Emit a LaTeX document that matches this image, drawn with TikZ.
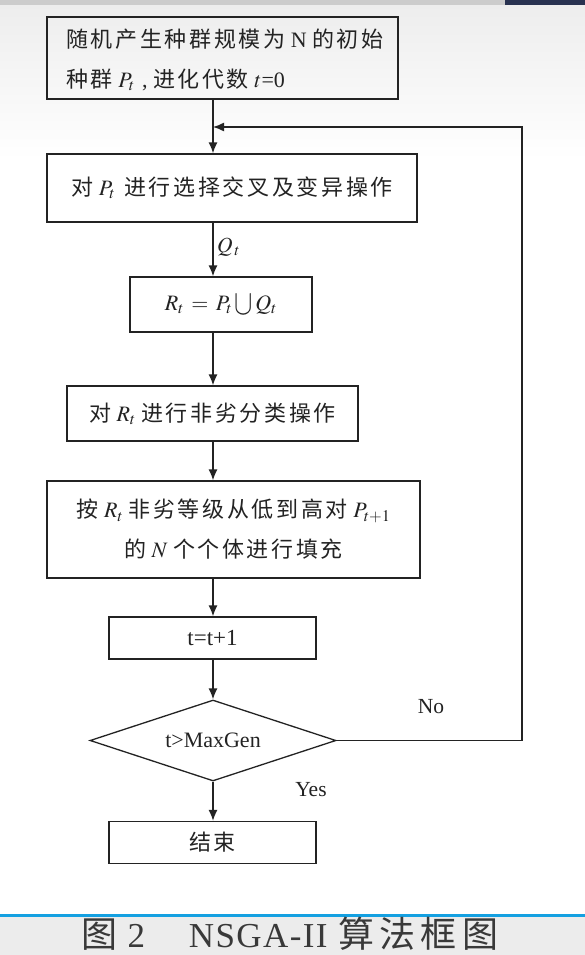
\documentclass[tikz,border=0pt]{standalone}
\usepackage{mathptmx}
\usepackage{graphicx}
\usepackage[no-math]{fontspec}
\setmainfont{Liberation Serif}
\newfontfamily\cjk[LetterSpace=12]{Noto Sans CJK SC}
\newfontfamily\cjkcap[LetterSpace=15]{Noto Sans CJK SC}
\newfontfamily\capserif[LetterSpace=4]{Liberation Serif}
\usetikzlibrary{shapes.geometric,arrows.meta}
\newcommand\zh[1]{{\cjk #1}}
\newcommand\bigunion{\raisebox{-4pt}{\scalebox{1.25}[1.6]{$\cup$}}}
\definecolor{ink}{RGB}{35,35,35}
\definecolor{capblue}{RGB}{20,160,225}
\definecolor{topnavy}{RGB}{40,50,80}
\begin{document}
\begin{tikzpicture}[x=1pt,y=-1pt,
  stepbox/.style={draw=ink, line width=1.3pt, inner sep=0pt, text=ink,
    font=\fontsize{22}{40}\selectfont, align=center},
  steptext/.style={inner sep=0pt, text=ink, font=\fontsize{22}{40}\selectfont, align=left},
  decbox/.style={diamond, draw=ink, line width=1.3pt, inner sep=0pt, text=ink,
    font=\fontsize{22}{26}\selectfont, aspect=3},
  arr/.style={draw=ink, line width=1.4pt, -{Latex[length=11pt,width=9pt]}},
  lbl/.style={text=ink, font=\fontsize{21.5}{26}\selectfont, inner sep=0pt}]
\useasboundingbox (0,0) rectangle (585,955);
\fill[white] (0,0) rectangle (585,955);
\shade[top color=gray!14, bottom color=white] (0,5) rectangle (585,160);
\fill[gray!40] (0,0) rectangle (585,5);
\fill[topnavy] (505,0) rectangle (585,5);

\coordinate (axis) at (213,0);

\node[stepbox, minimum width=351pt, minimum height=82pt] (b1) at (222.5,58) {};
\node[steptext, anchor=west] (b1t) at (66,60) {\zh{随机产生种群规模为} N \zh{的初始}\\
  \zh{种群} $P_t$\,\,, \zh{进化代数} $t$=0};
\node[stepbox, minimum width=370pt, minimum height=68pt] (b2) at (232,188)
  {\zh{对} $P_t$\, \zh{进行选择交叉及变异操作}};
\node[stepbox, minimum width=182pt, minimum height=55pt] (b3) at (221,304.5)
  {$R_t\,=\,P_t\,$\bigunion$\,Q_t$};
\node[stepbox, minimum width=291pt, minimum height=55pt] (b4) at (212.5,413.5)
  {\zh{对} $R_t$ \zh{进行非劣分类操作}};
\node[stepbox, minimum width=373pt, minimum height=97pt] (b5) at (233.5,529.5)
  {\zh{按} $R_t$ \zh{非劣等级从低到高对} $P_{t+1}$\\ \zh{的} $N$ \zh{个个体进行填充}};
\node[stepbox, minimum width=207pt, minimum height=42pt, font=\fontsize{23}{26}\selectfont] (b6) at (212.5,638)
  {t=t+1};
\node[decbox, minimum width=246pt, minimum height=81pt] (dia) at (213,740.5)
  {t>MaxGen};
\node[stepbox, minimum width=207pt, minimum height=42pt] (b7) at (212.5,842.5)
  {\zh{结束}};

\coordinate (loopin) at (213,127);
\coordinate (corner) at (522,127);

\draw[arr] (b1.south -| axis) -- (b2.north -| axis);
\draw[arr] (b2.south -| axis) -- (b3.north -| axis);
\draw[arr] (b3.south -| axis) -- (b4.north -| axis);
\draw[arr] (b4.south -| axis) -- (b5.north -| axis);
\draw[arr] (b5.south -| axis) -- (b6.north -| axis);
\draw[arr] (b6.south -| axis) -- (dia.north);
\draw[arr] (dia.south) -- (b7.north -| axis);
\draw[arr] (dia.east) -| (corner) -- (loopin);

\node[lbl, anchor=west] (q) at (217,247) {$Q_{\,t}$};
\node[lbl] (no) at (431,707) {No};
\node[lbl] (yes) at (311,790) {Yes};

\fill[gray!15] (0,917) rectangle (585,955);
\fill[capblue] (0,913.5) rectangle (585,917);
\node[anchor=base west, inner sep=0pt, text=ink!90, font=\fontsize{35}{38}\selectfont] (cap) at (81,947)
  {{\cjkcap\fontsize{36}{38}\selectfont 图}\hspace{0.3em}{\capserif 2}\hspace{1.25em}{\capserif NSGA-II}\hspace{0.3em}{\cjkcap\fontsize{36}{38}\selectfont 算法框图}};
\end{tikzpicture}
\end{document}
